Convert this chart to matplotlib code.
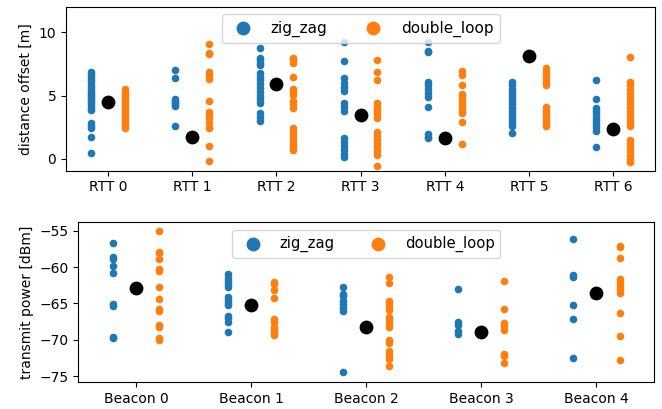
import matplotlib
matplotlib.use("Agg")
import matplotlib.pyplot as plt
import numpy as np

# --- distance offset per RTT responder [m] ---
rtt_labels = ["RTT 0", "RTT 1", "RTT 2", "RTT 3", "RTT 4", "RTT 5", "RTT 6"]

rtt_zig_zag = [
    [6.88, 6.6, 6.49, 6.25, 6.09, 5.75, 5.5, 5.3, 5.1, 4.96, 4.8, 4.64, 4.45, 4.25, 4.05, 3.85, 2.8, 2.6, 2.4, 1.74, 0.42],
    [7.05, 6.4, 4.75, 4.6, 4.45, 4.3, 4.2, 2.6],
    [8.8, 8.0, 7.8, 7.6, 7.4, 6.8, 6.5, 6.2, 5.9, 5.6, 5.3, 5.0, 4.7, 4.4, 3.6, 3.3, 3.0],
    [9.2, 7.7, 6.35, 6.0, 5.7, 5.35, 4.4, 4.1, 3.75, 1.6, 1.3, 1.0, 0.7, 0.4, 0.1],
    [9.25, 8.55, 8.45, 6.1, 5.8, 5.5, 5.2, 4.9, 4.1, 1.95, 1.75, 1.6],
    [6.05, 5.8, 5.55, 5.3, 5.05, 4.8, 4.55, 4.3, 4.05, 3.8, 3.55, 3.3, 3.05, 2.8, 2.6, 2.05],
    [6.2, 4.7, 4.0, 3.75, 3.5, 3.25, 3.0, 2.75, 2.5, 2.2, 0.95],
]

rtt_double_loop = [
    [5.5, 5.3, 5.1, 4.9, 4.7, 4.5, 4.3, 4.1, 3.9, 3.7, 3.5, 3.3, 3.1, 2.9, 2.7, 2.4],
    [9.1, 8.35, 8.25, 6.9, 6.6, 6.3, 4.6, 3.7, 3.5, 3.2, 2.8, 2.4, 1.0, -0.15],
    [8.0, 7.8, 7.55, 6.5, 5.55, 5.3, 5.05, 4.6, 4.35, 4.0, 2.4, 2.1, 1.8, 1.5, 1.2, 0.9, 0.7],
    [7.8, 6.85, 6.2, 4.4, 4.1, 3.8, 3.5, 3.2, 2.15, 1.8, 1.5, 1.2, 0.9, 0.6, 0.3, -0.6],
    [6.95, 6.65, 5.85, 5.1, 4.85, 4.6, 4.35, 4.1, 3.85, 3.6, 2.9, 1.2],
    [7.15, 6.9, 6.6, 6.3, 6.0, 5.85, 4.1, 3.85, 3.6, 3.35, 3.1, 2.85, 2.55],
    [8.05, 6.05, 5.8, 5.5, 5.2, 4.9, 4.6, 4.3, 4.0, 3.7, 3.4, 3.1, 2.8, 2.55, 1.5, 1.2, 0.9, 0.6, 0.3, 0.0, -0.25],
]

rtt_estimate = [4.45, 1.75, 5.91, 3.45, 1.63, 8.1, 2.32]

# --- transmit power per beacon [dBm] ---
beacon_labels = ["Beacon 0", "Beacon 1", "Beacon 2", "Beacon 3", "Beacon 4"]

beacon_zig_zag = [
    [-56.75, -58.6, -58.9, -59.8, -60.8, -65.1, -65.3, -69.6, -69.8],
    [-60.9, -61.5, -61.9, -62.3, -62.7, -64.1, -64.5, -64.9, -65.2, -66.7, -67.0, -67.6, -69.0],
    [-62.7, -63.7, -64.0, -64.6, -65.1, -65.6, -66.0, -74.5],
    [-63.0, -67.5, -67.9, -68.8, -69.2],
    [-56.15, -61.1, -61.3, -65.2, -67.2, -72.45],
]

beacon_double_loop = [
    [-55.1, -57.9, -58.1, -58.9, -60.3, -60.5, -62.7, -64.4, -65.8, -66.0, -67.9, -68.3, -69.8, -70.0],
    [-62.1, -62.3, -63.2, -64.2, -67.2, -67.6, -68.2, -68.5, -68.8, -69.1, -69.4],
    [-61.3, -62.2, -64.6, -65.0, -65.5, -65.9, -66.8, -67.3, -67.8, -68.2, -70.0, -70.5, -71.6, -72.1, -72.6, -73.6],
    [-61.9, -65.8, -67.7, -68.1, -68.6, -72.0, -72.3, -73.2],
    [-57.1, -57.3, -58.7, -61.6, -62.1, -62.6, -63.0, -63.5, -66.3, -69.5, -72.8],
]

beacon_estimate = [-62.88, -65.26, -68.2, -68.9, -63.5]

BLUE = "#1f77b4"
ORANGE = "#ff7f0e"
OFFSET = 0.2


def draw_panel(ax, labels, zig, dbl, est, legend_size):
    for i in range(len(labels)):
        ax.scatter(np.full(len(zig[i]), i - OFFSET), zig[i], s=20, color=BLUE,
                   label="zig_zag" if i == 0 else None)
        ax.scatter(np.full(len(dbl[i]), i + OFFSET), dbl[i], s=20, color=ORANGE,
                   label="double_loop" if i == 0 else None)
    ax.scatter(np.arange(len(labels)), est, s=80, color="black", zorder=3)
    ax.set_xticks(np.arange(len(labels)))
    ax.set_xticklabels(labels)
    ax.set_xlim(-0.5, len(labels) - 0.5)
    ax.legend(loc="upper center", ncol=2, markerscale=2, fontsize=legend_size)


fig = plt.figure(figsize=(6.62, 4.09), dpi=100)

ax1 = fig.add_axes([0.0997, 0.5826, 0.8902, 0.4010])
draw_panel(ax1, rtt_labels, rtt_zig_zag, rtt_double_loop, rtt_estimate, 11)
ax1.set_ylim(-0.95, 12.03)
ax1.set_yticks([0, 5, 10])
ax1.set_ylabel("distance offset [m]")

ax2 = fig.add_axes([0.1183, 0.0653, 0.8697, 0.3912])
draw_panel(ax2, beacon_labels, beacon_zig_zag, beacon_double_loop, beacon_estimate, 10.6)
ax2.set_ylim(-75.85, -53.84)
ax2.set_yticks([-75, -70, -65, -60, -55])
ax2.set_ylabel("transmit power [dBm]")

fig.savefig("out.png", dpi=100)
